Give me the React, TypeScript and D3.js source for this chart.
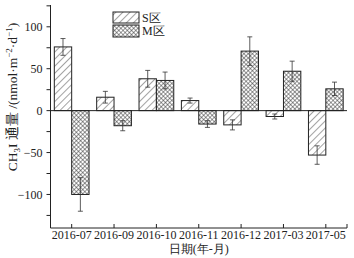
import * as d3 from 'd3';

// data
const months = ['2016-07', '2016-09', '2016-10', '2016-11', '2016-12', '2017-03', '2017-05'];
const sFlux = [76, 16, 38, 12, -17, -7, -53];
const sErr = [10, 7, 10, 3, 6, 3, 11];
const mFlux = [-100, -18, 36, -16, 71, 47, 26];
const mErr = [20, 6, 10, 4, 17, 12, 8];
const yTicks = [-125, -100, -75, -50, -25, 0, 25, 50, 75, 100, 125];
const yLabels = [-100, -50, 0, 50, 100];

const W = 354;
const H = 258;
const left = 50.5;
const right = 347;
const top = 5;
const bottom = 228;
const font = '"Liberation Serif", "Times New Roman", serif';

export default function App() {
  const x = d3.scalePoint<string>().domain(months).range([left, right]).padding(0.5);
  const y = d3.scaleLinear().domain([-140, 126]).range([bottom, top]);
  const bw = x.step() * 0.41;
  const fmt = (v: number) => (v < 0 ? '\u2212' + Math.abs(v) : String(v));

  const series = [
    { key: 'S', vals: sFlux, errs: sErr, off: -bw, fill: 'url(#hatch)' },
    { key: 'M', vals: mFlux, errs: mErr, off: 0, fill: 'url(#cross)' },
  ];

  return (
    <svg width={W} height={H} style={{ position: 'absolute', left: 0, top: 0, background: '#fff' }}
      fontFamily={font}>
      <defs>
        <pattern id="hatch" patternUnits="userSpaceOnUse" width={5} height={5}
          patternTransform="rotate(45)">
          <rect width={5} height={5} fill="#fff" />
          <line x1={0} y1={0} x2={0} y2={5} stroke="#333" strokeWidth={0.9} />
        </pattern>
        <pattern id="cross" patternUnits="userSpaceOnUse" width={3} height={3}
          patternTransform="rotate(45)">
          <rect width={3} height={3} fill="#fff" />
          <line x1={0} y1={0} x2={0} y2={3} stroke="#333" strokeWidth={1} />
          <line x1={0} y1={0} x2={3} y2={0} stroke="#333" strokeWidth={1} />
        </pattern>
      </defs>

      {/* bars */}
      {series.map((s) =>
        s.vals.map((v, i) => {
          const cx = (x(months[i]) as number) + s.off;
          const y0 = y(Math.max(0, v));
          const h = Math.abs(y(v) - y(0));
          const mid = cx + bw / 2;
          const e1 = y(v + s.errs[i]);
          const e2 = y(v - s.errs[i]);
          return (
            <g key={s.key + i}>
              <rect x={cx} y={y0} width={bw} height={h} fill={s.fill} stroke="#222" strokeWidth={1} />
              <line x1={mid} x2={mid} y1={e1} y2={e2} stroke="#333" strokeWidth={0.8} />
              <line x1={mid - 2.5} x2={mid + 2.5} y1={e1} y2={e1} stroke="#333" strokeWidth={0.8} />
              <line x1={mid - 2.5} x2={mid + 2.5} y1={e2} y2={e2} stroke="#333" strokeWidth={0.8} />
            </g>
          );
        })
      )}

      {/* zero line */}
      <line x1={left} x2={right} y1={y(0)} y2={y(0)} stroke="#222" strokeWidth={1} />

      {/* y axis */}
      <line x1={left} x2={left} y1={top} y2={bottom} stroke="#222" strokeWidth={1} />
      {yTicks.map((t) => (
        <line key={t} x1={left - 4} x2={left} y1={y(t)} y2={y(t)} stroke="#222" strokeWidth={1} />
      ))}
      {yLabels.map((t) => (
        <text key={t} x={left - 8} y={y(t)} dy="0.35em" textAnchor="end" fontSize={12} fill="#222">
          {fmt(t)}
        </text>
      ))}
      <text transform="translate(17,97) rotate(-90)" textAnchor="middle"
        fontSize={13.5} fill="#222">
        CH<tspan fontSize={9} dy={3}>3</tspan><tspan dy={-3}>I 通量 /(nmol·m</tspan>
        <tspan fontSize={9} dy={-5}>−2</tspan><tspan dy={5}>·d</tspan>
        <tspan fontSize={9} dy={-5}>−1</tspan><tspan dy={5}>)</tspan>
      </text>

      {/* x axis */}
      <line x1={left} x2={right} y1={bottom} y2={bottom} stroke="#222" strokeWidth={1} />
      <line x1={right} x2={right} y1={bottom} y2={bottom - 4} stroke="#222" strokeWidth={1} />
      {months.map((m) => (
        <g key={m}>
          <line x1={x(m)} x2={x(m)} y1={bottom} y2={bottom - 4} stroke="#222" strokeWidth={1} />
          <text x={x(m)} y={bottom + 11} textAnchor="middle" fontSize={12} fill="#222">{m}</text>
        </g>
      ))}
      <text x={(left + right) / 2} y={253} textAnchor="middle" fontSize={12} fill="#222">日期(年-月)</text>

      {/* legend */}
      <rect x={113} y={12} width={26} height={11} fill="url(#hatch)" stroke="#222" strokeWidth={1} />
      <rect x={113} y={25} width={26} height={12} fill="url(#cross)" stroke="#222" strokeWidth={1} />
      <text x={142} y={21.5} fontSize={12} fill="#222">S区</text>
      <text x={142} y={35} fontSize={12} fill="#222">M区</text>
    </svg>
  );
}
